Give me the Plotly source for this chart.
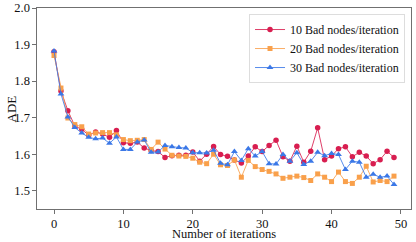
import plotly.graph_objects as go

iterations = list(range(50))

ade_10 = [1.880, 1.773, 1.719, 1.677, 1.668, 1.652, 1.661, 1.655, 1.646, 1.665,
          1.631, 1.630, 1.633, 1.617, 1.610, 1.607, 1.591, 1.596, 1.597, 1.597,
          1.606, 1.581, 1.600, 1.621, 1.599, 1.594, 1.584, 1.576, 1.595, 1.620,
          1.607, 1.624, 1.638, 1.593, 1.581, 1.622, 1.578, 1.608, 1.672, 1.585,
          1.595, 1.615, 1.620, 1.593, 1.605, 1.595, 1.574, 1.585, 1.608, 1.591]

ade_20 = [1.870, 1.781, 1.699, 1.681, 1.675, 1.655, 1.658, 1.659, 1.659, 1.653,
          1.640, 1.637, 1.638, 1.640, 1.613, 1.633, 1.614, 1.597, 1.595, 1.594,
          1.589, 1.578, 1.574, 1.600, 1.571, 1.569, 1.584, 1.537, 1.583, 1.566,
          1.558, 1.553, 1.546, 1.534, 1.537, 1.540, 1.536, 1.528, 1.546, 1.537,
          1.525, 1.551, 1.525, 1.520, 1.537, 1.567, 1.524, 1.528, 1.525, 1.540]

ade_30 = [1.882, 1.765, 1.702, 1.673, 1.658, 1.646, 1.642, 1.644, 1.630, 1.647,
          1.613, 1.613, 1.633, 1.639, 1.605, 1.606, 1.624, 1.620, 1.618, 1.617,
          1.604, 1.604, 1.603, 1.611, 1.575, 1.571, 1.607, 1.583, 1.615, 1.595,
          1.607, 1.574, 1.573, 1.599, 1.581, 1.604, 1.572, 1.581, 1.605, 1.596,
          1.602, 1.599, 1.558, 1.581, 1.578, 1.537, 1.545, 1.537, 1.540, 1.517]

series_names = ["10 Bad nodes/iteration", "20 Bad nodes/iteration", "30 Bad nodes/iteration"]

x_ticks = [0, 10, 20, 30, 40, 50]
y_ticks = [1.5, 1.6, 1.7, 1.8, 1.9, 2.0]
y_tick_labels = ["1.5", "1.6", "1.7", "1.8", "1.9", "2.0"]

styles = [
    dict(marker_color="#D81E50", line_color="rgba(216,30,80,0.85)", symbol="circle", size=5.5),
    dict(marker_color="#F9A04B", line_color="rgba(249,160,75,0.85)", symbol="square", size=5),
    dict(marker_color="#3B78E7", line_color="rgba(59,120,231,0.85)", symbol="triangle-up", size=6),
]

fig = go.Figure()
for name, vals, st in zip(series_names, [ade_10, ade_20, ade_30], styles):
    fig.add_trace(go.Scatter(
        x=iterations, y=vals, name=name, mode="lines+markers",
        line=dict(color=st["line_color"], width=1),
        marker=dict(color=st["marker_color"], symbol=st["symbol"], size=st["size"],
                    line=dict(width=0)),
    ))

font_family = "Liberation Serif, Times New Roman, serif"
axis_common = dict(
    showline=True, linecolor="#707070", linewidth=1.2, mirror=True,
    ticks="outside", ticklen=3.5, tickcolor="#707070", tickwidth=1,
    showgrid=False, zeroline=False, automargin=False,
    tickfont=dict(family=font_family, size=12.5, color="#111"),
)

fig.update_layout(
    width=416, height=242,
    margin=dict(l=37, r=5, t=8, b=33),
    paper_bgcolor="white", plot_bgcolor="white",
    font=dict(family=font_family, color="#111"),
    showlegend=True,
    legend=dict(
        x=0.984, y=0.970, xanchor="right", yanchor="top",
        bgcolor="white", bordercolor="#dddddd", borderwidth=1,
        font=dict(family=font_family, size=12, color="#111"),
        tracegroupgap=0, itemwidth=30,
    ),
    xaxis=dict(range=[-2.45, 51.45], tickvals=x_ticks, ticklabelstandoff=-1, **axis_common),
    yaxis=dict(range=[1.45, 2.0], tickvals=y_ticks, ticktext=y_tick_labels, **axis_common),
    annotations=[
        dict(text="Number of iterations", xref="paper", yref="paper", x=0.5, y=-0.125,
             xanchor="center", yanchor="middle", showarrow=False,
             font=dict(family=font_family, size=12.5, color="#111")),
        dict(text="ADE", xref="paper", yref="paper", x=-0.067, y=0.5, textangle=-90,
             xanchor="center", yanchor="middle", showarrow=False,
             font=dict(family=font_family, size=13, color="#111")),
    ],
)

fig.write_html(
    "out.html",
    config={"displayModeBar": False},
    post_script="document.body.style.margin='0';document.body.style.padding='0';",
)
